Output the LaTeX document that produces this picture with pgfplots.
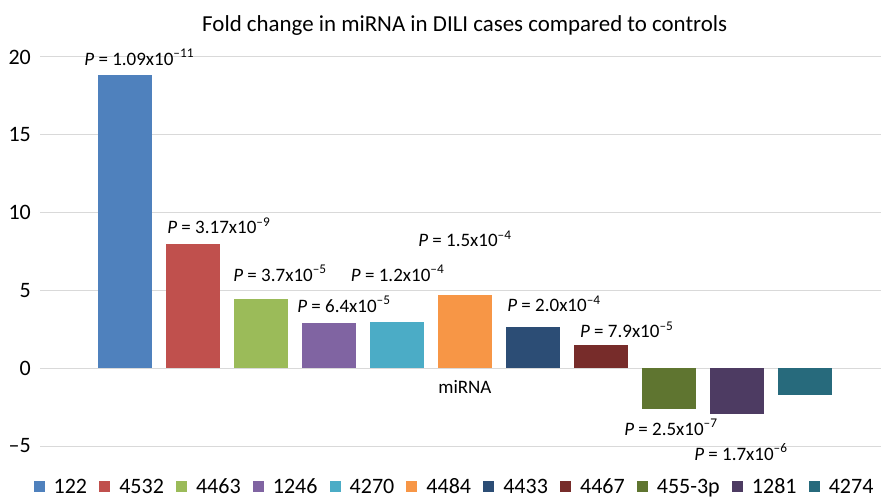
\documentclass[border=0pt]{standalone}
\usepackage{pgfplots}
\pgfplotsset{compat=1.18}
\usepackage{fontspec}
\setmainfont{Carlito}
\definecolor{c1}{HTML}{4F81BD}
\definecolor{c2}{HTML}{C0504D}
\definecolor{c3}{HTML}{9BBB59}
\definecolor{c4}{HTML}{8064A2}
\definecolor{c5}{HTML}{4BACC6}
\definecolor{c6}{HTML}{F79646}
\definecolor{c7}{HTML}{2C4D75}
\definecolor{c8}{HTML}{772C2A}
\definecolor{c9}{HTML}{5F7530}
\definecolor{c10}{HTML}{4D3B62}
\definecolor{c11}{HTML}{276A7C}
\newcommand{\pv}[2]{\textit{P} = #1x10\textsuperscript{--#2}}
\pgfplotsset{mybar/.style={ybar, bar width=54bp, bar shift=0pt, draw=none, fill=#1,
  legend image code/.code={\fill[fill=#1] (0bp,-5.5bp) rectangle (11bp,5.5bp);}}}
\begin{document}
\begin{tikzpicture}
\begin{axis}[
  scale only axis,
  width=841bp, height=389bp,
  xmin=-1.25, xmax=11.12,
  ymin=-5, ymax=20,
  ytick={-5,0,5,10,15,20},
  yticklabels={--5,0,5,10,15,20},
  xtick=\empty,
  ymajorgrids,
  grid style={draw=gray!30, line width=1bp},
  axis line style={draw=none},
  major tick length=0pt,
  yticklabel style={font=\fontsize{22bp}{26bp}\selectfont, inner sep=0pt, xshift=-9bp},
  clip=false,
  legend columns=-1,
  legend style={at={(0.4917,-0.105)}, anchor=center, draw=none, fill=none,
    font=\fontsize{22bp}{26bp}\selectfont, inner sep=0pt, nodes={inner sep=0pt},
    /tikz/every even column/.append style={column sep=12.2bp},
    /tikz/every odd column/.append style={column sep=9bp}},
]
\addplot[mybar=c1] coordinates {(0,18.85)};
\addplot[mybar=c2] coordinates {(1,7.98)};
\addplot[mybar=c3] coordinates {(2,4.42)};
\addplot[mybar=c4] coordinates {(3,2.90)};
\addplot[mybar=c5] coordinates {(4,2.96)};
\addplot[mybar=c6] coordinates {(5,4.69)};
\addplot[mybar=c7] coordinates {(6,2.64)};
\addplot[mybar=c8] coordinates {(7,1.46)};
\addplot[mybar=c9] coordinates {(8,-2.62)};
\addplot[mybar=c10] coordinates {(9,-2.94)};
\addplot[mybar=c11] coordinates {(10,-1.72)};
\legend{122,4532,4463,1246,4270,4484,4433,4467,455-3p,1281,4274}
\begin{scope}[every node/.style={anchor=base, inner sep=0pt, font=\fontsize{19bp}{23bp}\selectfont}]
\node at (axis cs:0.21,19.47) {\pv{1.09}{11}};
\node at (axis cs:1.38,8.65) {\pv{3.17}{9}};
\node at (axis cs:2.28,5.59) {\pv{3.7}{5}};
\node at (axis cs:3.22,3.60) {\pv{6.4}{5}};
\node at (axis cs:4.01,5.59) {\pv{1.2}{4}};
\node at (axis cs:5.00,7.80) {\pv{1.5}{4}};
\node at (axis cs:6.31,3.62) {\pv{2.0}{4}};
\node at (axis cs:7.38,1.97) {\pv{7.9}{5}};
\node at (axis cs:8.03,-4.31) {\pv{2.5}{7}};
\node at (axis cs:9.06,-5.91) {\pv{1.7}{6}};
\node at (axis cs:5.00,-1.63) {miRNA};
\end{scope}
\node[anchor=base, inner sep=0pt, font=\fontsize{22.9bp}{27bp}\selectfont] at (axis description cs:0.505,1.0668) {Fold change in miRNA in DILI cases compared to controls};
\coordinate (SW) at (rel axis cs:0,0);
\coordinate (NE) at (rel axis cs:1,1);
\end{axis}
\pgfresetboundingbox
\path[use as bounding box] ([shift={(-40bp,-52bp)}]SW) rectangle ([shift={(0bp,57bp)}]NE);
\end{tikzpicture}
\end{document}
